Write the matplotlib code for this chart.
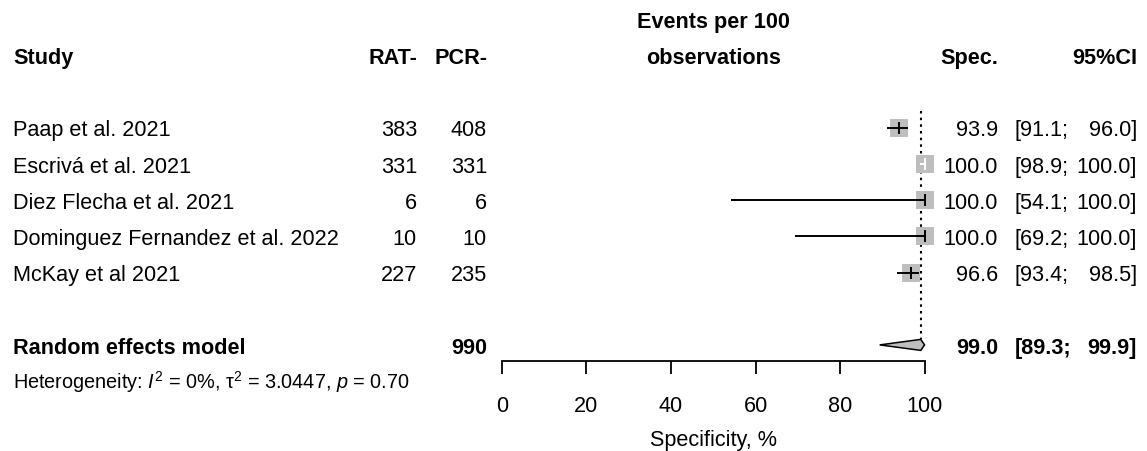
import matplotlib
matplotlib.use("Agg")
import matplotlib.pyplot as plt
import matplotlib.transforms as mtransforms

# ---------------- data ----------------
studies = ["Paap et al. 2021", "Escrivá et al. 2021", "Diez Flecha et al. 2021",
           "Dominguez Fernandez et al. 2022", "McKay et al 2021"]
rat_neg = [383, 331, 6, 10, 227]
pcr_neg = [408, 331, 6, 10, 235]
spec = [93.9, 100.0, 100.0, 100.0, 96.6]
ci_lo = [91.1, 98.9, 54.1, 69.2, 93.4]
ci_hi = [96.0, 100.0, 100.0, 100.0, 98.5]

pooled_label = "Random effects model"
pooled_total = 990
pooled_est = 99.0
pooled_lo = 89.3
pooled_hi = 99.9
het_text = r"Heterogeneity: $\mathit{I}^2$ = 0%, $\mathregular{τ^2}$ = 3.0447, $\mathit{p}$ = 0.70"

xticks = [0, 20, 40, 60, 80, 100]
xlabel = "Specificity, %"
header_cols = ["Study", "RAT-", "PCR-", "Spec.", "95%CI"]
header_mid = ["Events per 100", "observations"]

# ---------------- style ----------------
plt.rcParams["font.family"] = ["Liberation Sans", "DejaVu Sans"]
plt.rcParams["mathtext.fontset"] = "custom"
plt.rcParams["mathtext.rm"] = "Liberation Sans"
plt.rcParams["mathtext.it"] = "Liberation Sans:italic"
plt.rcParams["mathtext.bf"] = "Liberation Sans:bold"

W, H = 1147, 452
FS = 15.6
FS_HET = 14.3
GRAY = "#BEBEBE"

fig = plt.figure(figsize=(W / 100, H / 100), dpi=100)

# forest axes: x 0..100 spans pixels 501.7..925
x0_px, x1_px = 501.7, 925.0
ax = fig.add_axes([x0_px / W, 0.0, (x1_px - x0_px) / W, 1.0])
row0_px, row_step = 128.7, 36.2
ax.set_ylim((H - row0_px) / row_step, -row0_px / row_step)
ax.set_xlim(0, 100)
ax.patch.set_visible(False)

px_per_row = row_step
def cap_off(fs):
    # half cap-height in row units (for baseline alignment)
    return 0.716 * fs * 100 / 72 / 2 / px_per_row

blend = mtransforms.blended_transform_factory(fig.transFigure, ax.transData)

def ftext(xpx, row, s, ha="left", fs=FS, weight="normal"):
    ax.text(xpx / W, row + cap_off(fs), s, transform=blend, ha=ha, va="baseline",
            fontsize=fs, fontweight=weight, color="black", clip_on=False)

# headers
ftext(13, -2, header_cols[0], weight="bold")
ftext(417, -2, header_cols[1], ha="right", weight="bold")
ftext(487, -2, header_cols[2], ha="right", weight="bold")
ftext(998, -2, header_cols[3], ha="right", weight="bold")
ftext(1137, -2, header_cols[4], ha="right", weight="bold")
ax.text(50, -3 + cap_off(FS), header_mid[0], ha="center", va="baseline",
        fontsize=FS, fontweight="bold")
ax.text(50, -2 + cap_off(FS), header_mid[1], ha="center", va="baseline",
        fontsize=FS, fontweight="bold")

# study rows
sq_px = 17.5
sq_units = sq_px / (x1_px - x0_px) * 100
for i, name in enumerate(studies):
    ftext(13, i, name)
    ftext(417, i, f"{rat_neg[i]}", ha="right")
    ftext(487, i, f"{pcr_neg[i]}", ha="right")
    ftext(998, i, f"{spec[i]:.1f}", ha="right")
    ftext(1015, i, f"[{ci_lo[i]:.1f};")
    ftext(1137, i, f"{ci_hi[i]:.1f}]", ha="right")

    inside = (ci_hi[i] - ci_lo[i]) < sq_units
    lc = "white" if inside else "black"
    ax.plot([spec[i]], [i], marker="s", markersize=sq_px * 0.72, color=GRAY,
            markeredgewidth=0, linestyle="none", zorder=2, clip_on=False)
    ax.plot([ci_lo[i], ci_hi[i]], [i, i], color=lc, lw=1.4, zorder=3,
            solid_capstyle="butt", clip_on=False)
    ax.plot([spec[i]], [i], marker="|", markersize=8, markeredgewidth=1.4,
            color=lc, linestyle="none", zorder=3, clip_on=False)

# pooled
ftext(13, 6, pooled_label, weight="bold")
ftext(487, 6, f"{pooled_total}", ha="right", weight="bold")
ftext(998, 6, f"{pooled_est:.1f}", ha="right", weight="bold")
ftext(1015, 6, f"[{pooled_lo:.1f};", weight="bold")
ftext(1137, 6, f"{pooled_hi:.1f}]", ha="right", weight="bold")
dh = 5.5 / px_per_row
ax.fill([pooled_lo, pooled_est, pooled_hi, pooled_est],
        [6, 6 - dh, 6, 6 + dh], facecolor=GRAY, edgecolor="black",
        lw=1.1, zorder=3, clip_on=False)

# reference dotted line at pooled estimate
ax.plot([pooled_est, pooled_est], [-0.45, 6 - dh], color="black", lw=1.5,
        linestyle=(0, (1.2, 2.0)), zorder=1)

# heterogeneity
ftext(13, 7, het_text, fs=FS_HET)

# x-axis
for s in ["top", "left", "right"]:
    ax.spines[s].set_visible(False)
ax.spines["bottom"].set_position(("data", 6.44))
ax.spines["bottom"].set_linewidth(1.3)
ax.spines["bottom"].set_bounds(0, 100)
ax.set_yticks([])
ax.set_xticks(xticks)
ax.set_xticklabels([str(t) for t in xticks])
ax.tick_params(axis="x", direction="out", length=9.4, width=1.3, pad=15.5,
               labelsize=FS)
ax.text(50, 8.54 + cap_off(FS), xlabel, ha="center", va="baseline", fontsize=FS)

fig.savefig("out.png", dpi=100)
